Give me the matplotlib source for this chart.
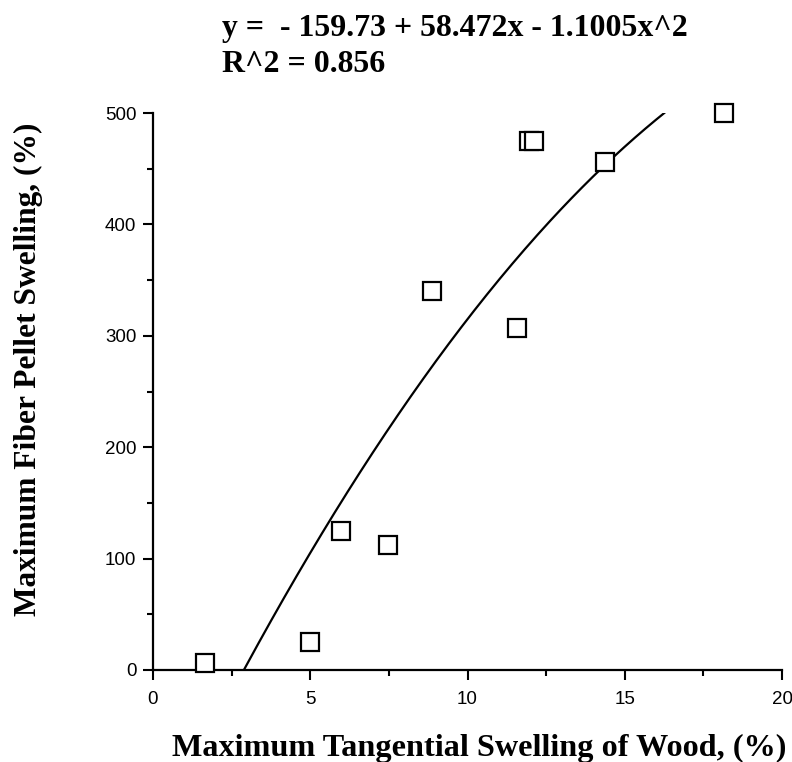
import numpy as np
import matplotlib
matplotlib.use("Agg")
import matplotlib.pyplot as plt
from matplotlib.ticker import MultipleLocator

# Data
tangential_swelling = [1.65, 5.0, 5.98, 7.48, 8.88, 11.56, 11.95, 12.1, 14.38, 18.15]
pellet_swelling = [6, 25, 125, 112, 340, 307, 475, 475, 456, 500]

# Fitted quadratic (from the chart's equation)
coef_c0, coef_c1, coef_c2 = -159.73, 58.472, -1.1005
equation_text = "y =  - 159.73 + 58.472x - 1.1005x^2"
r2_text = "R^2 = 0.856"
xlabel = "Maximum Tangential Swelling of Wood, (%)"
ylabel = "Maximum Fiber Pellet Swelling, (%)"
x_ticks = [0, 5, 10, 15, 20]
y_ticks = [0, 100, 200, 300, 400, 500]

W, H = 792, 762
fig = plt.figure(figsize=(W / 100, H / 100), dpi=100)
ax = fig.add_axes([153 / W, 1 - 670 / H, (782 - 153) / W, (670 - 113) / H])

# Fit curve, clipped to y in [0, 500]
poly = np.poly1d([coef_c2, coef_c1, coef_c0])
r0 = sorted((poly).r)[0]
r500 = sorted((poly - 500).r)[0]
xs = np.linspace(r0, r500, 200)
ax.plot(xs, poly(xs), color="black", lw=1.6, zorder=2)

ax.plot(tangential_swelling, pellet_swelling, linestyle="none", marker="s",
        markersize=12.5, markerfacecolor="white", markeredgecolor="black",
        markeredgewidth=1.6, zorder=3, clip_on=False)

ax.set_xlim(0, 20)
ax.set_ylim(0, 500)
ax.set_xticks(x_ticks)
ax.set_yticks(y_ticks)
ax.xaxis.set_minor_locator(MultipleLocator(2.5))
ax.yaxis.set_minor_locator(MultipleLocator(50))

for s in ["top", "right"]:
    ax.spines[s].set_visible(False)
for s in ["left", "bottom"]:
    ax.spines[s].set_linewidth(1.6)

ax.tick_params(which="major", direction="out", length=7, width=1.5,
               labelsize=13.5, pad=5)
ax.tick_params(which="minor", direction="out", length=4, width=1.5)
ax.tick_params(axis="x", which="major", pad=8)
for lab in ax.get_xticklabels() + ax.get_yticklabels():
    lab.set_fontfamily("Liberation Sans")

serif = "Liberation Serif"
renderer = fig.canvas.get_renderer()


def fit_width(txt, target_px):
    w = txt.get_window_extent(renderer).width
    txt.set_fontsize(txt.get_fontsize() * target_px / w)


def fit_height(txt, target_px):
    h = txt.get_window_extent(renderer).height
    txt.set_fontsize(txt.get_fontsize() * target_px / h)


xl = fig.text(172 / W, 1 - 756 / H, xlabel, fontfamily=serif, fontweight="bold",
              fontsize=23.2, ha="left", va="baseline")
fit_width(xl, 616)
yl = fig.text(43 / W, 1 - 369 / H, ylabel, fontfamily=serif, fontweight="bold",
              fontsize=23.2, rotation=90, ha="right", va="center")
fit_height(yl, 492)

t1 = fig.text(222 / W, 1 - 36 / H, equation_text, fontfamily=serif,
              fontweight="bold", fontsize=23.7, ha="left", va="baseline")
fit_width(t1, 466)
t2 = fig.text(222 / W, 1 - 72 / H, r2_text, fontfamily=serif,
              fontweight="bold", fontsize=t1.get_fontsize(), ha="left", va="baseline")

fig.savefig("out.png", dpi=100)
